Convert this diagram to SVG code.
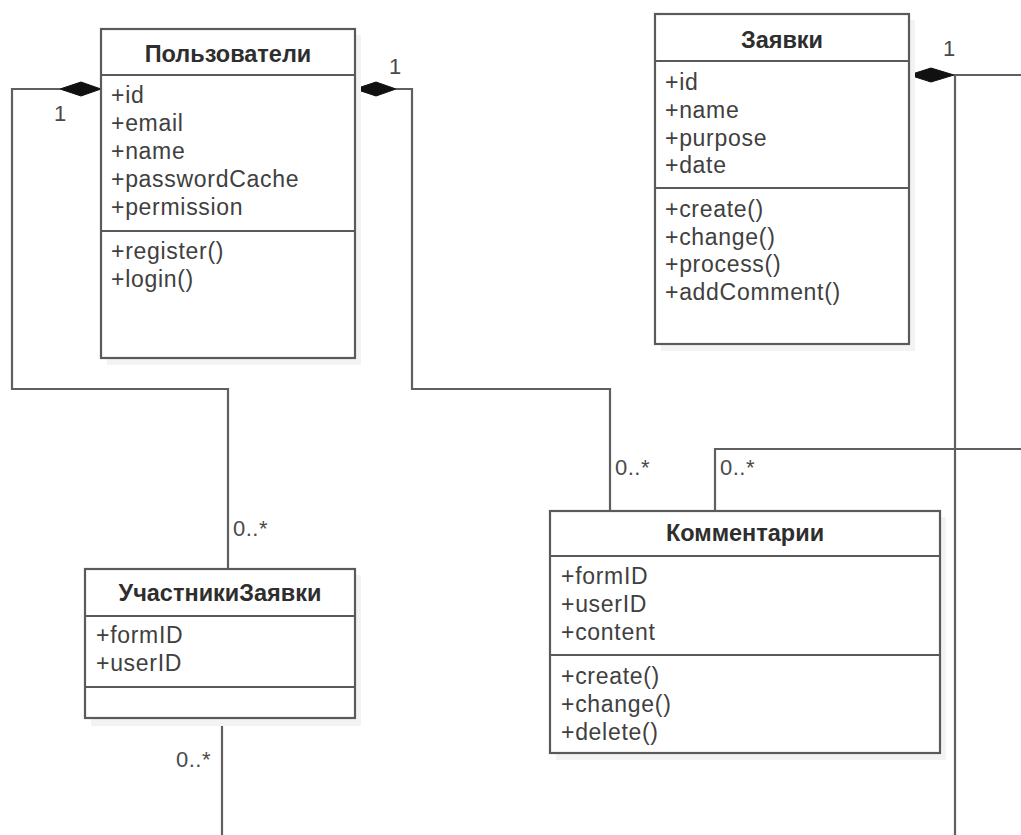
<svg xmlns="http://www.w3.org/2000/svg" width="1021" height="835" viewBox="0 0 1021 835">
  <style>
    .shadow { fill: #f3f3f3; stroke: none; }
    .box { fill: #ffffff; stroke: #5a5a5a; stroke-width: 2.2; }
    .sep { stroke: #5a5a5a; stroke-width: 2.2; }
    .title { font-family: "Liberation Sans", Arial, sans-serif; font-size: 23.5px; font-weight: bold; fill: #2e2e2e; text-anchor: middle; }
    .member { font-family: "Liberation Sans", Arial, sans-serif; font-size: 23px; fill: #404040; letter-spacing: 0.7px; }
    .edge { fill: none; stroke: #5f5f5f; stroke-width: 2.2; }
    .diamond { fill: #111111; stroke: #111111; stroke-width: 1; }
    .mult { font-family: "Liberation Sans", Arial, sans-serif; font-size: 22px; fill: #4a4a4a; letter-spacing: 0.5px; }
  </style>

  <!-- associations -->
  <g id="connectors">
    <!-- Пользователи (left) to УчастникиЗаявки -->
    <polyline class="edge" points="60,89 12,89 12,389 228,389 228,569"/>
    <polygon class="diamond" points="101,89 81,82 60,89 81,96"/>
    <!-- Пользователи (right) to Комментарии -->
    <polyline class="edge" points="396,89 412,89 412,389 610,389 610,511"/>
    <polygon class="diamond" points="355,89 376,82 396,89 376,96"/>
    <!-- Заявки to the right edge and down -->
    <polyline class="edge" points="954,75 1021,75"/>
    <polyline class="edge" points="955,75 955,835"/>
    <polygon class="diamond" points="909,75 931,68 954,75 931,82"/>
    <!-- Комментарии to the right edge -->
    <polyline class="edge" points="715,511 715,449 1021,449"/>
    <!-- УчастникиЗаявки downwards -->
    <polyline class="edge" points="222,718 222,835"/>

    <text class="mult" x="54" y="121">1</text>
    <text class="mult" x="389" y="74">1</text>
    <text class="mult" x="943" y="56">1</text>
    <text class="mult" x="233" y="536">0..*</text>
    <text class="mult" x="615" y="475">0..*</text>
    <text class="mult" x="720" y="475">0..*</text>
    <text class="mult" x="176" y="767">0..*</text>
  </g>

  <g id="users">
    <rect class="shadow" x="107" y="35" width="254" height="330"/>
    <rect class="box" x="101" y="29" width="254" height="329"/>
    <line class="sep" x1="101" y1="75" x2="355" y2="75"/>
    <line class="sep" x1="101" y1="231" x2="355" y2="231"/>
    <text class="title" x="228" y="62">Пользователи</text>
    <text class="member" x="111" y="103">+id</text>
    <text class="member" x="111" y="131">+email</text>
    <text class="member" x="111" y="159">+name</text>
    <text class="member" x="111" y="187">+passwordCache</text>
    <text class="member" x="111" y="215">+permission</text>
    <text class="member" x="111" y="259">+register()</text>
    <text class="member" x="111" y="287">+login()</text>
  </g>

  <g id="requests">
    <rect class="shadow" x="661" y="20" width="254" height="331"/>
    <rect class="box" x="655" y="14" width="254" height="330"/>
    <line class="sep" x1="655" y1="61" x2="909" y2="61"/>
    <line class="sep" x1="655" y1="188" x2="909" y2="188"/>
    <text class="title" x="782" y="48">Заявки</text>
    <text class="member" x="665" y="90">+id</text>
    <text class="member" x="665" y="118">+name</text>
    <text class="member" x="665" y="146">+purpose</text>
    <text class="member" x="665" y="173">+date</text>
    <text class="member" x="665" y="217">+create()</text>
    <text class="member" x="665" y="245">+change()</text>
    <text class="member" x="665" y="272">+process()</text>
    <text class="member" x="665" y="300">+addComment()</text>
  </g>

  <g id="participants">
    <rect class="shadow" x="91" y="575" width="270" height="151"/>
    <rect class="box" x="85" y="569" width="270" height="149"/>
    <line class="sep" x1="85" y1="616" x2="355" y2="616"/>
    <line class="sep" x1="85" y1="687" x2="355" y2="687"/>
    <text class="title" x="220" y="601">УчастникиЗаявки</text>
    <text class="member" x="96" y="643">+formID</text>
    <text class="member" x="96" y="671">+userID</text>
  </g>

  <g id="comments">
    <rect class="shadow" x="556" y="517" width="390" height="243"/>
    <rect class="box" x="550" y="511" width="390" height="242"/>
    <line class="sep" x1="550" y1="556" x2="940" y2="556"/>
    <line class="sep" x1="550" y1="655" x2="940" y2="655"/>
    <text class="title" x="745" y="541">Комментарии</text>
    <text class="member" x="561" y="584">+formID</text>
    <text class="member" x="561" y="612">+userID</text>
    <text class="member" x="561" y="640">+content</text>
    <text class="member" x="561" y="684">+create()</text>
    <text class="member" x="561" y="712">+change()</text>
    <text class="member" x="561" y="740">+delete()</text>
  </g>
</svg>
